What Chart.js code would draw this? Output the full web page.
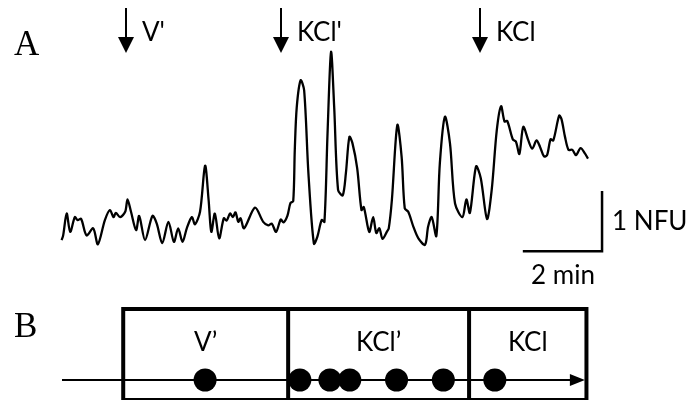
<!DOCTYPE html>
<html>
<head>
<meta charset="utf-8">
<script src="https://cdn.jsdelivr.net/npm/chart.js@4"></script>
<style>
  html, body { margin: 0; padding: 0; background: #fff; }
  #wrap { width: 689px; height: 400px; }
</style>
</head>
<body>
<div id="wrap"><canvas id="trace" width="689" height="400"></canvas></div>
<script>
// Fluorescence trace (time in minutes, signal in normalised fluorescence units)
const timeMin = [
  -0.01, 0.03, 0.12, 0.21, 0.33, 0.40, 0.49, 0.63, 0.80, 0.92,
  1.10, 1.23, 1.32, 1.38, 1.49, 1.62, 1.68, 1.77, 1.90, 1.98,
  2.13, 2.32, 2.43, 2.57, 2.73, 2.87, 2.98, 3.09, 3.20, 3.33,
  3.41, 3.54, 3.67, 3.76, 3.83, 3.92, 4.03, 4.15, 4.22, 4.31,
  4.38, 4.45, 4.52, 4.58, 4.67, 4.95, 5.16, 5.29, 5.38, 5.49,
  5.61, 5.68, 5.78, 5.86, 5.93, 5.97, 6.02, 6.12, 6.21, 6.32,
  6.46, 6.55, 6.66, 6.73, 6.81, 6.90, 6.98, 7.08, 7.20, 7.28,
  7.37, 7.45, 7.57, 7.68, 7.74, 7.88, 7.98, 8.06, 8.14, 8.22,
  8.33, 8.38, 8.46, 8.60, 8.71, 8.79, 8.88, 9.01, 9.14, 9.31,
  9.39, 9.48, 9.60, 9.69, 9.82, 9.95, 10.08, 10.27, 10.37, 10.46,
  10.62, 10.74, 10.90, 11.02, 11.15, 11.26, 11.35, 11.42, 11.56, 11.64,
  11.73, 11.83, 11.96, 12.06, 12.17, 12.26, 12.36, 12.44, 12.53, 12.60,
  12.75, 12.81, 12.90, 12.99, 13.09, 13.18, 13.30, 13.41, 13.49
];
const signalNFU = [
  0.00, 0.08, 0.45, 0.14, 0.39, 0.34, 0.36, 0.08, 0.20, -0.07,
  0.34, 0.51, 0.39, 0.46, 0.39, 0.48, 0.69, 0.48, 0.17, 0.41,
  0.00, 0.41, 0.28, -0.05, 0.31, -0.03, 0.20, -0.03, 0.20, 0.39,
  0.27, 0.48, 1.26, 0.68, 0.14, 0.45, 0.03, 0.37, 0.33, 0.45,
  0.39, 0.47, 0.31, 0.37, 0.20, 0.55, 0.31, 0.25, 0.28, 0.14,
  0.35, 0.30, 0.41, 0.63, 0.66, 1.53, 2.25, 2.71, 2.54, 1.13,
  -0.06, 0.06, 0.34, 0.31, 1.81, 3.19, 2.26, 0.85, 0.76, 1.13,
  1.75, 1.64, 1.22, 0.51, 0.56, 0.14, 0.39, 0.12, 0.20, 0.02,
  0.14, 0.20, 0.68, 1.95, 1.41, 0.54, 0.48, 0.23, 0.03, -0.08,
  0.23, 0.39, 0.07, 1.30, 2.09, 1.64, 0.62, 0.39, 0.69, 0.46,
  1.25, 1.05, 0.36, 0.85, 1.86, 2.27, 2.01, 2.02, 1.71, 1.67,
  1.46, 1.92, 1.69, 1.55, 1.69, 1.58, 1.42, 1.44, 1.71, 1.69,
  2.11, 2.05, 1.75, 1.53, 1.53, 1.44, 1.56, 1.47, 1.38
];

// Stimulus applications (arrows above the trace)
const stimulusNames = ["V'", "KCl'", "KCl"];
const stimulusTimes = [1.64, 5.61, 10.72];

// Treatment periods on the timeline (edges in minutes)
const periodNames = ["V\u2019", "KCl\u2019", "KCl"];
const periodEdges = [1.57, 5.80, 10.44, 13.45];

// Detected calcium events on the timeline
const eventTimes = [3.67, 6.10, 6.87, 7.38, 8.58, 9.78, 11.10];

// Timeline extent and scale bars
const timelineStart = 0.0;
const timelineEnd = 13.41;
const scaleBarMinutes = 2;
const scaleBarNFU = 1;
const scaleBarCornerTime = 13.85;
const scaleBarCornerNFU = -0.19;

const SANS = 'Lato, "Open Sans", sans-serif';
const SERIF = '"Liberation Serif", "DejaVu Serif", serif';

const decorations = {
  id: 'decorations',
  beforeDatasetsDraw(chart) {
    const ctx = chart.ctx;
    const xs = chart.scales.x, yb = chart.scales.yB;
    const rowY = yb.getPixelForValue(0);
    ctx.save();
    ctx.strokeStyle = '#000';
    ctx.fillStyle = '#000';

    // timeline axis with arrow head
    const ax0 = xs.getPixelForValue(timelineStart);
    const ax1 = xs.getPixelForValue(timelineEnd);
    ctx.lineWidth = 2;
    ctx.beginPath();
    ctx.moveTo(ax0, rowY);
    ctx.lineTo(ax1 - 10, rowY);
    ctx.stroke();
    ctx.beginPath();
    ctx.moveTo(ax1, rowY);
    ctx.lineTo(ax1 - 15, rowY - 6);
    ctx.lineTo(ax1 - 15, rowY + 6);
    ctx.closePath();
    ctx.fill();

    // period boxes
    const top = rowY - 71, bottom = rowY + 20;
    ctx.lineWidth = 4;
    ctx.lineJoin = 'miter';
    const left = xs.getPixelForValue(periodEdges[0]);
    const right = xs.getPixelForValue(periodEdges[periodEdges.length - 1]);
    ctx.strokeRect(left, top, right - left, bottom - top);
    ctx.beginPath();
    for (let i = 1; i < periodEdges.length - 1; i++) {
      const px = xs.getPixelForValue(periodEdges[i]);
      ctx.moveTo(px, top);
      ctx.lineTo(px, bottom);
    }
    ctx.stroke();

    ctx.font = '26px ' + SANS;
    ctx.textAlign = 'center';
    ctx.textBaseline = 'alphabetic';
    for (let i = 0; i < periodNames.length; i++) {
      const cx = (xs.getPixelForValue(periodEdges[i]) + xs.getPixelForValue(periodEdges[i + 1])) / 2;
      ctx.fillText(periodNames[i], cx, top + 42);
    }
    ctx.restore();
  },
  afterDraw(chart) {
    const ctx = chart.ctx;
    const xs = chart.scales.x, ys = chart.scales.y;
    ctx.save();
    ctx.fillStyle = '#000';
    ctx.strokeStyle = '#000';

    // panel letters
    ctx.font = '35px ' + SERIF;
    ctx.textAlign = 'left';
    ctx.textBaseline = 'alphabetic';
    ctx.fillText('A', 14, 55);
    ctx.fillText('B', 14, 337);

    // stimulus arrows
    ctx.font = '26px ' + SANS;
    for (let i = 0; i < stimulusTimes.length; i++) {
      const px = Math.round(xs.getPixelForValue(stimulusTimes[i]));
      ctx.lineWidth = 2;
      ctx.beginPath();
      ctx.moveTo(px, 8);
      ctx.lineTo(px, 40);
      ctx.stroke();
      ctx.beginPath();
      ctx.moveTo(px - 8, 37);
      ctx.lineTo(px + 8, 37);
      ctx.lineTo(px, 53);
      ctx.closePath();
      ctx.fill();
      ctx.fillText(stimulusNames[i], px + 16, 41);
    }

    // scale bars
    const cx = xs.getPixelForValue(scaleBarCornerTime);
    const cy = ys.getPixelForValue(scaleBarCornerNFU);
    const hx = xs.getPixelForValue(scaleBarCornerTime - scaleBarMinutes);
    const vy = ys.getPixelForValue(scaleBarCornerNFU + scaleBarNFU);
    ctx.lineWidth = 2.5;
    ctx.lineCap = 'square';
    ctx.beginPath();
    ctx.moveTo(hx, cy);
    ctx.lineTo(cx, cy);
    ctx.lineTo(cx, vy);
    ctx.stroke();
    ctx.textAlign = 'left';
    ctx.fillText(scaleBarNFU + ' NFU', cx + 10, (cy + vy) / 2 + 8);
    ctx.textAlign = 'center';
    ctx.fillText(scaleBarMinutes + ' min', (cx + hx) / 2, cy + 33);
    ctx.restore();
  }
};

new Chart(document.getElementById('trace'), {
  type: 'line',
  data: {
    datasets: [
      {
        data: timeMin.map((t, i) => ({ x: t, y: signalNFU[i] })),
        yAxisID: 'y',
        borderColor: '#000',
        borderWidth: 2.3,
        pointRadius: 0,
        tension: 0.3,
        fill: false
      },
      {
        data: eventTimes.map(t => ({ x: t, y: 0 })),
        yAxisID: 'yB',
        showLine: false,
        pointRadius: 11.5,
        pointBackgroundColor: '#000',
        pointBorderColor: '#000',
        pointBorderWidth: 0
      }
    ]
  },
  options: {
    responsive: false,
    devicePixelRatio: 1,
    animation: false,
    events: [],
    layout: { padding: 0, autoPadding: false },
    plugins: { legend: { display: false }, tooltip: { enabled: false }, title: { display: false } },
    scales: {
      x: { type: 'linear', display: false, min: -1.59, max: 16.08 },
      y: { type: 'linear', display: false, min: -2.71, max: 4.07 },
      yB: { type: 'linear', display: false, min: -0.5, max: 9.5 }
    }
  },
  plugins: [decorations]
});
</script>
</body>
</html>
